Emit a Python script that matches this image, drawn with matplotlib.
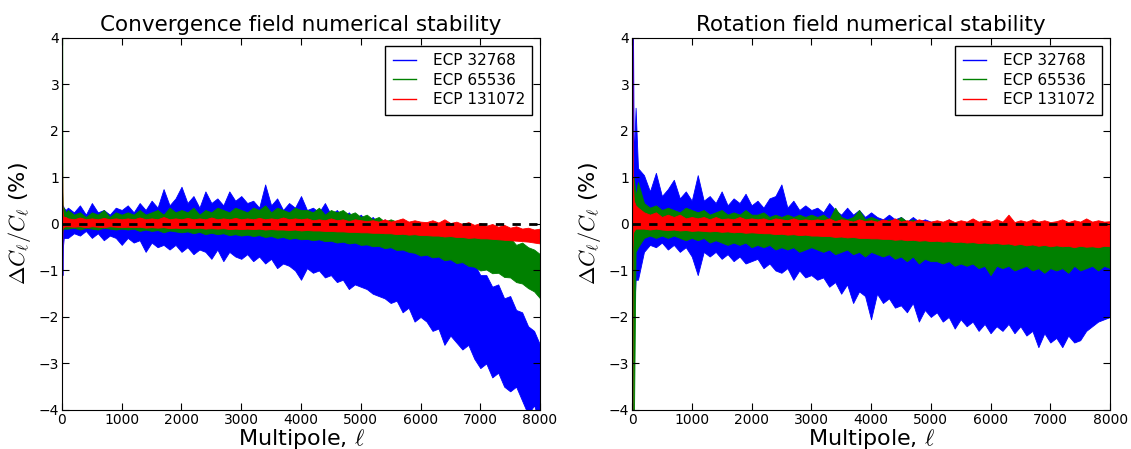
import numpy as np
import matplotlib
matplotlib.use("Agg")
import matplotlib.pyplot as plt
from matplotlib.lines import Line2D

plt.rcParams["mathtext.fontset"] = "cm"

# multipole sample points: a few at very low ell, then every 100
ell = [1, 4, 8, 15, 30, 60] + list(range(100, 8001, 100))

labels = ["ECP 32768", "ECP 65536", "ECP 131072"]
colors = ["b", "g", "r"]

# upper / lower envelope of each noisy curve (%)
conv_blue_hi = [0.3, 0.3, 0.2, 0.4, 0.35, 0.3,
                0.35, 0.25, 0.4, 0.2, 0.45, 0.25, 0.3, 0.2, 0.35, 0.3,
                0.4, 0.25, 0.45, 0.3, 0.5, 0.35, 0.75, 0.4, 0.55, 0.8,
                0.45, 0.6, 0.35, 0.7, 0.45, 0.55, 0.4, 0.7, 0.5, 0.6,
                0.45, 0.5, 0.35, 0.85, 0.4, 0.55, 0.3, 0.45, 0.35, 0.6,
                0.3, 0.35, 0.25, 0.45, 0.2, 0.3, 0.15, 0.25, 0.1, 0.2,
                0.05, 0.15, 0.0, 0.1, -0.1, 0.0, -0.15, -0.1, -0.25, -0.3,
                -0.35, -0.45, -0.5, -0.6, -0.55, -0.75, -0.7, -0.9, -0.85, -1.1,
                -1.1, -1.35, -1.3, -1.6, -1.55, -1.85, -1.9, -2.2, -2.3, -2.6]
conv_blue_lo = [-0.3, -0.8, -1.1, -0.5, -0.3, -0.3,
                -0.3, -0.2, -0.25, -0.15, -0.3, -0.2, -0.35, -0.25, -0.3, -0.45,
                -0.3, -0.4, -0.35, -0.6, -0.4, -0.5, -0.45, -0.55, -0.45, -0.6,
                -0.5, -0.65, -0.55, -0.6, -0.75, -0.55, -0.8, -0.6, -0.7, -0.75,
                -0.65, -0.8, -0.7, -0.85, -0.75, -0.95, -0.85, -0.9, -1.0, -1.2,
                -0.95, -1.05, -1.0, -1.15, -1.1, -1.25, -1.2, -1.4, -1.3, -1.35,
                -1.4, -1.5, -1.55, -1.6, -1.7, -1.65, -1.9, -1.8, -2.1, -2.0,
                -2.1, -2.3, -2.25, -2.6, -2.4, -2.55, -2.7, -2.6, -2.9, -3.1,
                -3.0, -3.3, -3.2, -3.5, -3.6, -3.5, -3.8, -4.1, -3.9, -4.3]
conv_green_hi = [4.5, 4.5, 0.7, 0.3, 0.35, 0.25,
                 0.3, 0.2, 0.25, 0.15, 0.25, 0.2, 0.3, 0.15, 0.25, 0.2,
                 0.25, 0.2, 0.3, 0.2, 0.25, 0.3, 0.2, 0.35, 0.25, 0.3,
                 0.25, 0.35, 0.2, 0.3, 0.25, 0.35, 0.3, 0.25, 0.35, 0.3,
                 0.25, 0.35, 0.3, 0.4, 0.25, 0.35, 0.3, 0.25, 0.35, 0.3,
                 0.3, 0.25, 0.35, 0.2, 0.3, 0.25, 0.3, 0.2, 0.25, 0.15,
                 0.2, 0.1, 0.15, 0.05, 0.1, 0.05, 0.1, 0.0, 0.05, 0.0,
                 0.0, -0.05, 0.0, -0.1, -0.05, -0.15, -0.1, -0.2, -0.15, -0.25,
                 -0.2, -0.3, -0.1, -0.35, -0.3, -0.45, -0.4, -0.5, -0.55, -0.65]
conv_green_lo = [-0.2, -0.15, -0.15, -0.1, -0.1, -0.1,
                 -0.1, -0.08, -0.12, -0.08, -0.1, -0.12, -0.08, -0.1, -0.12, -0.1,
                 -0.12, -0.1, -0.15, -0.12, -0.15, -0.13, -0.18, -0.14, -0.16, -0.18,
                 -0.16, -0.2, -0.17, -0.22, -0.19, -0.22, -0.2, -0.24, -0.22, -0.25,
                 -0.23, -0.26, -0.24, -0.28, -0.26, -0.3, -0.28, -0.32, -0.3, -0.33,
                 -0.32, -0.35, -0.33, -0.37, -0.36, -0.4, -0.38, -0.42, -0.4, -0.45,
                 -0.44, -0.48, -0.47, -0.52, -0.5, -0.56, -0.55, -0.6, -0.62, -0.68,
                 -0.66, -0.72, -0.7, -0.78, -0.76, -0.84, -0.82, -0.9, -0.92, -1.0,
                 -0.98, -1.06, -1.05, -1.14, -1.15, -1.25, -1.28, -1.38, -1.45, -1.6]
conv_red_hi = [1.5, 1.0, 0.3, 0.2, 0.15, 0.15,
               0.12, 0.1, 0.14, 0.1, 0.12, 0.1, 0.13, 0.1, 0.12, 0.1,
               0.12, 0.1, 0.14, 0.1, 0.12, 0.1, 0.15, 0.1, 0.12, 0.1,
               0.13, 0.1, 0.12, 0.1, 0.14, 0.1, 0.12, 0.1, 0.13, 0.1,
               0.12, 0.1, 0.13, 0.1, 0.12, 0.1, 0.14, 0.1, 0.12, 0.1,
               0.12, 0.08, 0.1, 0.08, 0.12, 0.08, 0.1, 0.06, 0.1, 0.08,
               0.06, 0.08, 0.05, 0.1, 0.05, 0.08, 0.12, 0.05, 0.08, 0.05,
               0.04, 0.08, 0.03, 0.1, 0.02, 0.05, 0.0, 0.04, -0.02, 0.02,
               -0.04, 0.0, -0.06, -0.02, -0.08, -0.05, -0.1, -0.08, -0.12, -0.1]
conv_red_lo = [-4.5, -0.5, -0.1, -0.08, -0.06, -0.05,
               -0.05, -0.06, -0.05, -0.07, -0.05, -0.06, -0.07, -0.05, -0.06, -0.07,
               -0.06, -0.07, -0.06, -0.08, -0.07, -0.08, -0.07, -0.09, -0.08, -0.09,
               -0.08, -0.09, -0.08, -0.1, -0.09, -0.1, -0.09, -0.11, -0.1, -0.11,
               -0.1, -0.11, -0.1, -0.12, -0.11, -0.12, -0.12, -0.13, -0.12, -0.14,
               -0.13, -0.14, -0.14, -0.15, -0.15, -0.16, -0.16, -0.17, -0.17, -0.18,
               -0.18, -0.19, -0.19, -0.2, -0.2, -0.22, -0.21, -0.23, -0.22, -0.24,
               -0.24, -0.25, -0.25, -0.27, -0.26, -0.28, -0.28, -0.3, -0.29, -0.31,
               -0.31, -0.32, -0.33, -0.34, -0.35, -0.36, -0.37, -0.38, -0.4, -0.42]

rot_blue_hi = [0.5, 1.0, 4.5, 4.5, 1.3, 2.5,
               1.2, 1.05, 0.7, 1.1, 0.6, 0.75, 0.95, 0.55, 0.7, 0.5,
               1.05, 0.5, 0.6, 0.45, 0.7, 0.4, 0.55, 0.45, 0.65, 0.4,
               0.5, 0.35, 0.55, 0.6, 0.85, 0.35, 0.5, 0.3, 0.4, 0.3,
               0.35, 0.25, 0.45, 0.3, 0.2, 0.35, 0.2, 0.3, 0.15, 0.25,
               0.15, 0.1, 0.2, 0.1, 0.15, 0.05, 0.15, 0.05, 0.1, 0.05,
               0.05, 0.0, 0.1, 0.0, 0.05, 0.0, 0.1, 0.0, 0.05, 0.0,
               0.0, 0.0, 0.0, 0.0, 0.0, 0.0, 0.0, 0.0, 0.0, 0.0,
               0.0, 0.0, 0.0, 0.0, 0.0, 0.0, 0.0, 0.0, 0.0, 0.0]
rot_blue_lo = [-0.5, -1.0, -1.5, -1.2, -2.1, -1.2,
               -1.2, -0.6, -0.45, -0.5, -0.4, -0.55, -0.45, -0.6, -0.5, -0.7,
               -1.1, -0.6, -0.7, -0.6, -0.75, -0.65, -0.8, -0.7, -0.85, -0.8,
               -0.75, -0.95, -0.85, -1.0, -1.05, -0.95, -1.2, -1.0, -1.15, -1.1,
               -1.2, -1.15, -1.35, -1.25, -1.5, -1.3, -1.7, -1.45, -1.55, -2.05,
               -1.5, -1.7, -1.6, -1.8, -1.75, -1.9, -1.7, -2.1, -1.85, -2.0,
               -1.9, -2.1, -2.0, -2.25, -2.05, -2.2, -2.1, -2.3, -2.15, -2.35,
               -2.2, -2.3, -2.15, -2.35, -2.2, -2.4, -2.3, -2.65, -2.35, -2.55,
               -2.45, -2.65, -2.4, -2.55, -2.5, -2.3, -2.2, -2.1, -2.05, -2.0]
rot_green_hi = [0.3, 0.5, 1.0, 0.8, 1.0, 0.6,
                0.9, 0.45, 0.35, 0.4, 0.3, 0.35, 0.3, 0.25, 0.35, 0.3,
                0.25, 0.3, 0.2, 0.25, 0.3, 0.2, 0.25, 0.2, 0.3, 0.2,
                0.2, 0.25, 0.15, 0.2, 0.15, 0.2, 0.15, 0.2, 0.15, 0.2,
                0.15, 0.2, 0.1, 0.35, 0.15, 0.1, 0.15, 0.3, 0.1, 0.15,
                0.1, 0.05, 0.1, 0.05, 0.15, 0.05, 0.1, 0.0, 0.05, 0.0,
                0.0, 0.0, 0.0, 0.0, 0.0, 0.0, 0.0, 0.0, 0.0, 0.0,
                0.0, 0.0, 0.0, 0.0, 0.0, 0.0, 0.0, 0.0, 0.0, 0.0,
                0.0, 0.0, 0.0, 0.0, 0.0, 0.0, 0.0, 0.0, 0.0, 0.0]
rot_green_lo = [-0.3, -0.5, -1.0, -4.5, -4.5, -0.6,
                -0.5, -0.3, -0.25, -0.3, -0.25, -0.3, -0.25, -0.3, -0.35, -0.3,
                -0.35, -0.3, -0.4, -0.35, -0.4, -0.45, -0.4, -0.45, -0.4, -0.5,
                -0.45, -0.5, -0.45, -0.55, -0.5, -0.55, -0.5, -0.6, -0.55, -0.5,
                -0.55, -0.6, -0.55, -0.65, -0.6, -0.55, -0.65, -0.6, -0.7, -0.6,
                -0.65, -0.7, -0.65, -0.75, -0.7, -0.8, -0.7, -0.85, -0.75, -0.8,
                -0.8, -0.85, -0.8, -0.9, -0.85, -0.9, -0.85, -0.95, -0.9, -1.1,
                -0.9, -0.95, -0.9, -1.0, -0.95, -0.9, -1.0, -0.95, -1.05, -0.95,
                -1.0, -0.95, -1.05, -0.9, -1.0, -0.95, -0.9, -1.0, -0.9, -0.95]
rot_red_hi = [4.5, 4.5, 2.0, 0.8, 0.5, 0.4,
              0.35, 0.25, 0.2, 0.25, 0.15, 0.2, 0.15, 0.2, 0.12, 0.15,
              0.12, 0.15, 0.1, 0.15, 0.1, 0.12, 0.1, 0.15, 0.1, 0.12,
              0.1, 0.12, 0.08, 0.12, 0.1, 0.08, 0.12, 0.08, 0.1, 0.08,
              0.1, 0.08, 0.12, 0.06, 0.1, 0.08, 0.05, 0.1, 0.06, 0.08,
              0.05, 0.1, 0.06, 0.12, 0.05, 0.08, 0.05, 0.1, 0.06, 0.05,
              0.08, 0.05, 0.1, 0.04, 0.08, 0.05, 0.12, 0.05, 0.08, 0.05,
              0.1, 0.05, 0.2, 0.04, 0.08, 0.05, 0.1, 0.05, 0.08, 0.04,
              0.06, 0.1, 0.04, 0.08, 0.05, 0.12, 0.05, 0.08, 0.05, 0.06]
rot_red_lo = [-4.5, -4.5, -0.5, -0.2, -0.15, -0.1,
              -0.1, -0.1, -0.12, -0.1, -0.12, -0.13, -0.12, -0.14, -0.13, -0.15,
              -0.14, -0.15, -0.16, -0.15, -0.17, -0.16, -0.18, -0.17, -0.19, -0.18,
              -0.19, -0.2, -0.2, -0.22, -0.21, -0.23, -0.22, -0.24, -0.23, -0.25,
              -0.25, -0.26, -0.26, -0.28, -0.27, -0.29, -0.28, -0.3, -0.3, -0.31,
              -0.31, -0.32, -0.32, -0.34, -0.33, -0.35, -0.34, -0.36, -0.35, -0.37,
              -0.36, -0.38, -0.37, -0.39, -0.38, -0.4, -0.39, -0.41, -0.4, -0.42,
              -0.41, -0.43, -0.42, -0.45, -0.43, -0.46, -0.44, -0.47, -0.45, -0.48,
              -0.46, -0.48, -0.47, -0.5, -0.47, -0.49, -0.48, -0.5, -0.47, -0.48]

panels = [
    ("Convergence field numerical stability",
     [(conv_blue_lo, conv_blue_hi), (conv_green_lo, conv_green_hi), (conv_red_lo, conv_red_hi)]),
    ("Rotation field numerical stability",
     [(rot_blue_lo, rot_blue_hi), (rot_green_lo, rot_green_hi), (rot_red_lo, rot_red_hi)]),
]

fig = plt.figure(figsize=(11.31, 4.49), dpi=100)
lefts = [0.0548, 0.5588]
for (title, bands), left in zip(panels, lefts):
    ax = fig.add_axes([left, 0.087, 0.4227, 0.8284])
    for (lo, hi), c in zip(bands, colors):
        ax.fill_between(ell, lo, hi, color=c, linewidth=0.6)
    ax.axhline(0, color="k", linestyle="--", linewidth=2, dashes=(3, 3))
    ax.set_xlim(0, 8000)
    ax.set_ylim(-4, 4)
    ax.set_xticks(range(0, 8001, 1000))
    ax.set_yticks(range(-4, 5))
    ax.tick_params(direction="in", top=True, right=True, labelsize=10, length=5, pad=2)
    ax.set_title(title, fontsize=15.5, pad=5)
    ax.set_xlabel(r"Multipole, $\ell$", fontsize=16, labelpad=0)
    ax.set_ylabel(r"$\Delta C_\ell / C_\ell$ (%)", fontsize=16, labelpad=4)
    handles = [Line2D([], [], color=c, linewidth=1) for c in colors]
    ax.legend(handles, labels, loc="upper right", fontsize=11, fancybox=False,
              framealpha=1, edgecolor="k", handlelength=1.5, handletextpad=1.1,
              labelspacing=0.3, borderpad=0.5, borderaxespad=0.5)

fig.savefig("out.png", dpi=100)
